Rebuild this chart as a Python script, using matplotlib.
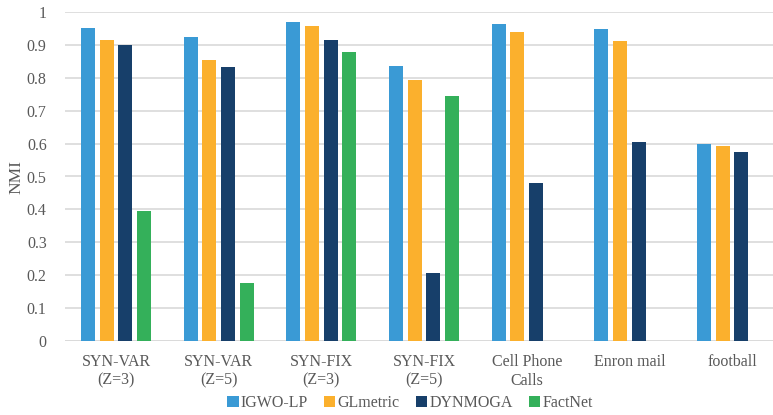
import matplotlib
matplotlib.use("Agg")
import matplotlib.pyplot as plt
import numpy as np

categories = ["SYN-VAR\n(Z=3)", "SYN-VAR\n(Z=5)", "SYN-FIX\n(Z=3)", "SYN-FIX\n(Z=5)",
              "Cell Phone\nCalls", "Enron mail", "football"]
series_names = ["IGWO-LP", "GLmetric", "DYNMOGA", "FactNet"]
igwo_lp = [0.950, 0.924, 0.971, 0.836, 0.963, 0.947, 0.600]
glmetric = [0.915, 0.854, 0.956, 0.793, 0.938, 0.911, 0.594]
dynmoga = [0.900, 0.833, 0.915, 0.208, 0.479, 0.604, 0.574]
factnet = [0.395, 0.176, 0.877, 0.746, np.nan, np.nan, np.nan]
yticks = [0, 0.1, 0.2, 0.3, 0.4, 0.5, 0.6, 0.7, 0.8, 0.9, 1]

colors = ["#3a9ad5", "#fbb02d", "#173f6a", "#34b05a"]

plt.rcParams["font.family"] = ["Liberation Serif", "DejaVu Serif"]

fig = plt.figure(figsize=(7.73, 4.15), dpi=100)
W, H = 773, 415
left, right = 64.7, 783.4
top, bottom = 12, 341
ax = fig.add_axes([left / W, 1 - bottom / H, (right - left) / W, (bottom - top) / H])

x = np.arange(len(categories))
step = 18.7 / 102.67
width = 14 / 102.67
for i, (vals, c, name) in enumerate(zip([igwo_lp, glmetric, dynmoga, factnet], colors, series_names)):
    ax.bar(x + (i - 1.5) * step, vals, width=width, color=c, label=name, zorder=3)

ax.set_xlim(-0.5, len(categories) - 0.5)
ax.set_ylim(0, 1)
ax.set_yticks(yticks)
ax.set_yticklabels([f"{t:g}" for t in yticks])
ax.yaxis.grid(True, color="#d9d9d9", linewidth=1.2, zorder=0)
for s in ax.spines.values():
    s.set_visible(False)
ax.axhline(0, color="#d9d9d9", linewidth=1.2, zorder=1)
ax.set_xticks(x)
ax.set_xticklabels(categories, fontsize=11.5, color="#595959", linespacing=1.25)
ax.tick_params(axis="both", length=0, labelsize=11.5, colors="#595959")
ax.tick_params(axis="x", pad=9)
ax.tick_params(axis="y", pad=13)
ax.set_ylabel("NMI", fontsize=12.5, color="#595959", labelpad=2)

handles, labels = ax.get_legend_handles_labels()
fig.legend(handles, labels, loc="center", bbox_to_anchor=(410 / W, 1 - 403 / H), ncol=4,
           frameon=False, fontsize=11.5, handlelength=0.7, handleheight=0.7,
           handletextpad=0.15, columnspacing=1.0, labelcolor="#595959")

fig.savefig("out.png", dpi=100)
